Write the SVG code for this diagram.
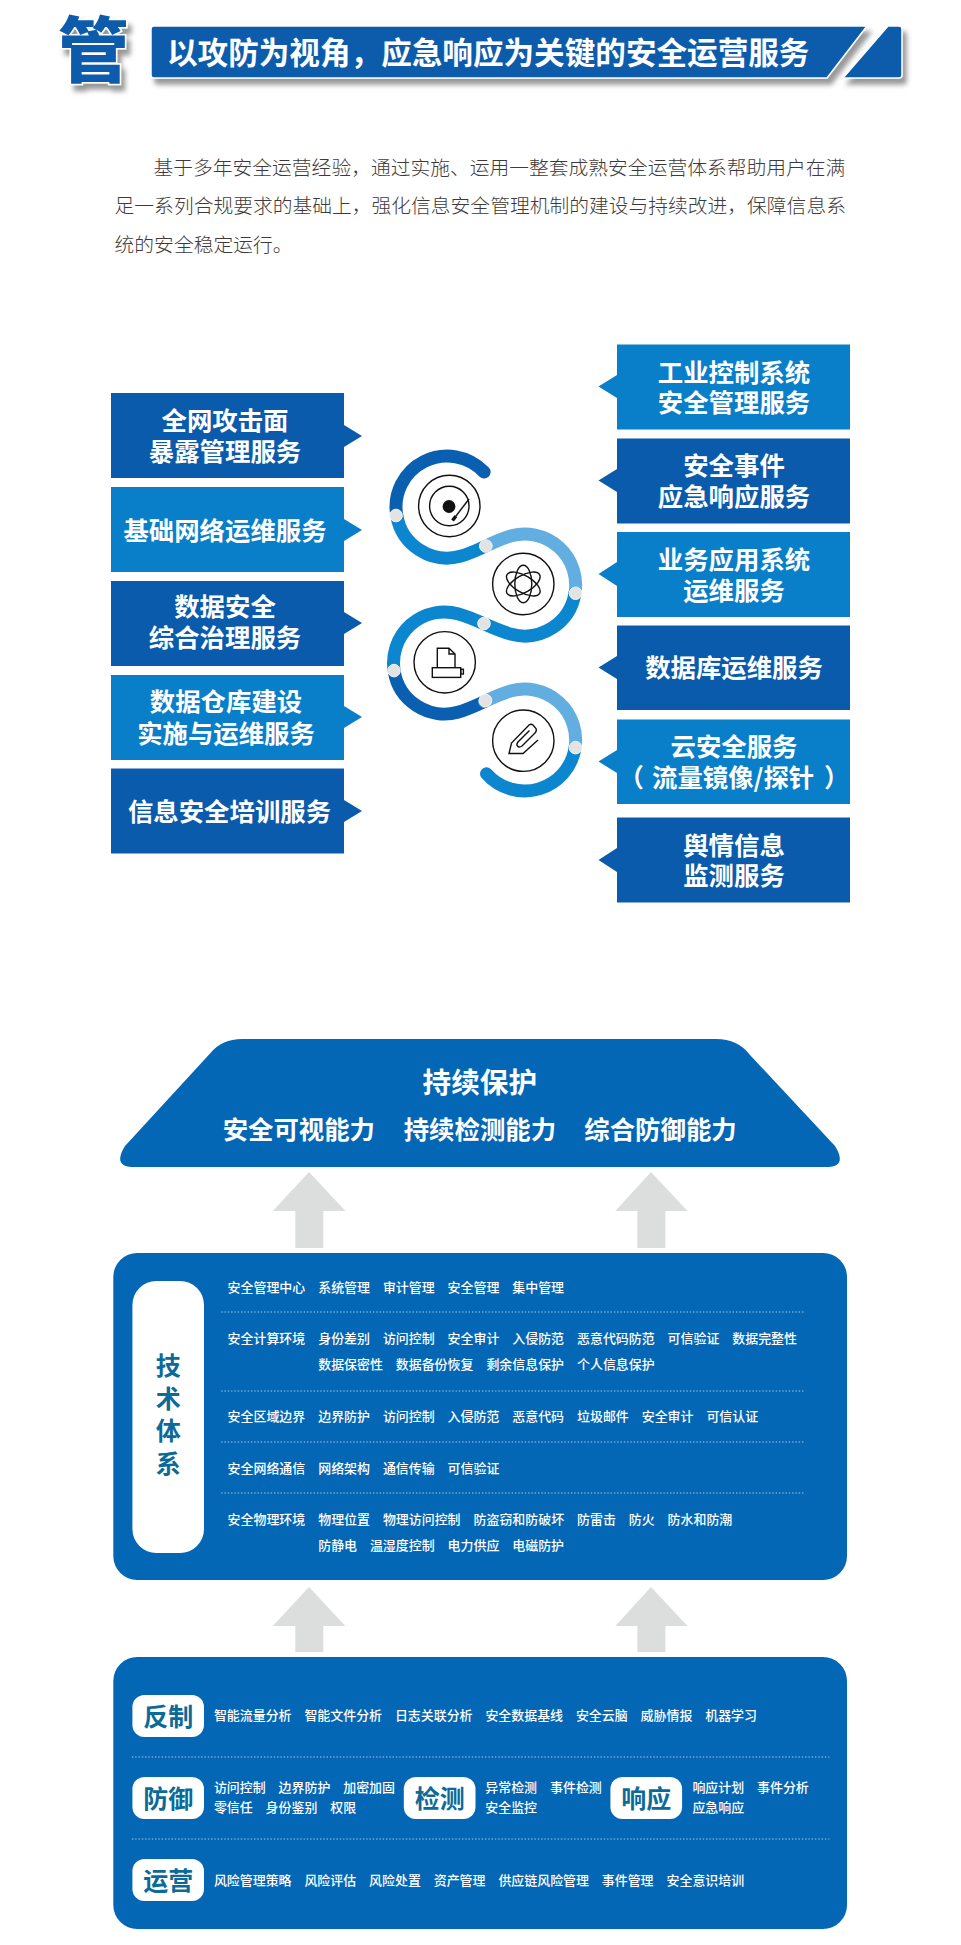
<svg xmlns="http://www.w3.org/2000/svg" width="961" height="1945" viewBox="0 0 961 1945">
<defs>
<filter id="sh" x="-10%" y="-30%" width="120%" height="170%"><feDropShadow dx="4" dy="6" stdDeviation="2.6" flood-color="#777" flood-opacity="0.75"/></filter>
</defs>
<style>
text{font-family:"Noto Sans CJK SC","Noto Sans",sans-serif;}
.box{font-size:25.4px;font-weight:600;fill:#fff;text-anchor:middle;}
.dark{fill:#0a5bab;}
.light{fill:#0a7fc9;}
.panel{fill:#0467b5;}
.pill{fill:#fff;}
.it{font-size:12.94px;font-weight:500;fill:#fff;transform:translateY(-1px);}
.lab{font-size:25px;font-weight:700;fill:#0c6a98;text-anchor:middle;}
.dot{stroke:#a9c9e6;stroke-width:1.2;stroke-dasharray:1.4 1.9;fill:none;}
.body{font-size:19.77px;font-weight:300;fill:#3e3a39;}
.arc{fill:none;stroke-width:13;stroke-linecap:round;}
.jn{fill:#e3e3e3;stroke:#f4f4f4;stroke-width:1;}
.ic{fill:none;stroke:#111;stroke-width:1.4;}
.up{fill:#dcdddd;}
.tr1{font-size:25.4px;font-weight:700;fill:#fff;text-anchor:middle;}
</style>
<rect width="961" height="1945" fill="#fff"/>

<g id="header">
<g filter="url(#sh)">
<path id="banner-main" d="M154,26H867L827,78H154Q151,78 151,75V29Q151,26 154,26Z" fill="#0a5bab" stroke="#fff" stroke-width="1.5"/>
<path id="banner-tail" d="M888,26H899Q902,26 902,29V75Q902,78 899,78H843Z" fill="#0a5bab" stroke="#fff" stroke-width="1.5"/>
</g>
<text x="167" y="63.5" font-size="30.6" font-weight="700" fill="#fff">以攻防为视角&#xFF0C;应急响应为关键的安全运营服务</text>
<g filter="url(#sh)"><text x="93.5" y="75.5" font-size="71" font-weight="900" fill="#0a5bab" stroke="#fff" stroke-width="3" paint-order="stroke" text-anchor="middle">管</text></g>
</g>

<g id="intro">
<text class="body" x="153.5" y="174.5">基于多年安全运营经验&#xFF0C;通过实施&#x3001;运用一整套成熟安全运营体系帮助用户在满</text>
<text class="body" x="114.6" y="212.5">足一系列合规要求的基础上&#xFF0C;强化信息安全管理机制的建设与持续改进&#xFF0C;保障信息系</text>
<text class="body" x="114.6" y="251.5">统的安全稳定运行&#x3002;</text>
</g>

<g id="left-1"><path class="dark" d="M111,393H344V425L362,436L344,447V478H111Z"/><text class="box" x="225" y="430.3">全网攻击面</text><text class="box" x="225" y="461.3">暴露管理服务</text></g>
<g id="left-2"><path class="light" d="M111,487H344V519L362,530L344,541V572H111Z"/><text class="box" x="225" y="539.6">基础网络运维服务</text></g>
<g id="left-3"><path class="dark" d="M111,581H344V612L362,623L344,634V666H111Z"/><text class="box" x="225" y="616.3">数据安全</text><text class="box" x="225" y="647.3">综合治理服务</text></g>
<g id="left-4"><path class="light" d="M111,675H344V706L362,717L344,728V760H111Z"/><text class="box" x="226" y="711.3">数据仓库建设</text><text class="box" x="226" y="742.6">实施与运维服务</text></g>
<g id="left-5"><path class="dark" d="M111,768.5H344V800L362,811L344,822V853.5H111Z"/><text class="box" x="229.5" y="820.6">信息安全培训服务</text></g>

<g id="right-1"><path class="light" d="M850,344.5H617V375L598.5,386.5L617,398V429.5H850Z"/><text class="box" x="734" y="382">工业控制系统</text><text class="box" x="734" y="412.3">安全管理服务</text></g>
<g id="right-2"><path class="dark" d="M850,438.5H617V469L598.5,480.5L617,492V523.5H850Z"/><text class="box" x="734" y="475.3">安全事件</text><text class="box" x="734" y="506.3">应急响应服务</text></g>
<g id="right-3"><path class="light" d="M850,532H617V562L598.5,574L617,586V617H850Z"/><text class="box" x="734" y="568.6">业务应用系统</text><text class="box" x="734" y="600.3">运维服务</text></g>
<g id="right-4"><path class="dark" d="M850,625.5H617V656L598.5,667.5L617,679V710H850Z"/><text class="box" x="734" y="677.3">数据库运维服务</text></g>
<g id="right-5"><path class="light" d="M850,719.5H617V750L598.5,761.5L617,773V804H850Z"/><text class="box" x="734" y="756.3">云安全服务</text><text class="box" x="618.5" y="787.3" style="text-anchor:start">&#xFF08;<tspan x="652">流量镜像/探针</tspan><tspan x="824">&#xFF09;</tspan></text></g>
<g id="right-6"><path class="dark" d="M850,817.5H617V848L598.5,860L617,872V902.5H850Z"/><text class="box" x="734" y="854.6">舆情信息</text><text class="box" x="734" y="885.3">监测服务</text></g>

<g id="swirl">
<path class="arc" stroke="#0a5fb0" d="M484.1,472A51,51 0 0 0 396.8,515.9"/>
<path class="arc" stroke="#0c86cf" d="M396.8,515.9A51,51 0 0 0 460.2,556.3C469.85,553.7 477.85,549.85 485.85,546"/>
<path class="arc" stroke="#63aee0" d="M485.85,546C493.85,542.15 501.85,538.3 511.5,535.7A51,51 0 0 1 575,593.1"/>
<path class="arc" stroke="#0c86cf" d="M575,593.1A51,51 0 0 1 511.5,634.3C492.2,629.1 477,618.9 457.7,613.7A51,51 0 0 0 394.1,670.6"/>
<path class="arc" stroke="#0a5fb0" d="M394.1,670.6A51,51 0 0 0 457.7,712.26C467.35,709.7 475.98,705.6 484.6,701.5"/>
<path class="arc" stroke="#63aee0" d="M484.6,701.5C493.2,697.4 501.85,693.3 511.5,690.74A51,51 0 0 1 575.1,747.6"/>
<path class="arc" stroke="#0c86cf" d="M575.1,747.6A51,51 0 0 1 486.5,773.8"/>
<circle class="jn" cx="396" cy="515.5" r="6.3"/>
<circle class="jn" cx="485.85" cy="546" r="6.3"/>
<circle class="jn" cx="575.5" cy="593.2" r="6.3"/>
<circle class="jn" cx="484" cy="623.5" r="6.3"/>
<circle class="jn" cx="394" cy="670.6" r="6.3"/>
<circle class="jn" cx="485.5" cy="700.5" r="6.3"/>
<circle class="jn" cx="575.5" cy="747.6" r="6.3"/>
</g>

<g id="icon-disc">
<circle class="ic" cx="449.3" cy="506" r="30.7"/>
<circle class="ic" cx="449.3" cy="506" r="19.7"/>
<circle cx="449" cy="506.5" r="6.4" fill="#111"/>
<path class="ic" d="M469,499L456,516"/>
<path d="M456,516L452.5,520.5" fill="none" stroke="#111" stroke-width="3.4"/>
</g>
<g id="icon-atom">
<circle class="ic" cx="523.3" cy="584" r="30.7"/>
<ellipse class="ic" cx="523.3" cy="584" rx="8.5" ry="18.8"/>
<ellipse class="ic" cx="523.3" cy="584" rx="8.5" ry="18.8" transform="rotate(60 523.3 584)"/>
<ellipse class="ic" cx="523.3" cy="584" rx="8.5" ry="18.8" transform="rotate(-60 523.3 584)"/>
</g>
<g id="icon-printer">
<circle class="ic" cx="444.7" cy="662.3" r="30.7"/>
<path class="ic" d="M437.3,667.7V648.3H449L455,654V667.7M449,648.3V654H455"/>
<rect class="ic" x="432.3" y="667.7" width="28.4" height="9.7"/>
<rect class="ic" x="460.7" y="669.3" width="2.7" height="4.7"/>
</g>
<g id="icon-clip">
<circle class="ic" cx="523.3" cy="740.7" r="30.7"/>
<path class="ic" stroke-width="1.7" d="M538,740L523,753.5L509,753.5L511.5,743L529,725Q531,723.5 533,725L536,728.5Q537,731 535,733L522,746Q519,748 517.5,746Q516,744.5 518,742L529.5,730.5"/>
</g>

<g id="protection">
<path d="M242,1039H716Q738,1039 750,1055L835,1146Q848,1167 826,1167H134Q112,1167 125,1146L210.5,1053Q222,1039 242,1039Z" class="panel"/>
<text x="479.8" y="1092.7" font-size="28.6" font-weight="700" fill="#fff" text-anchor="middle">持续保护</text>
<text class="tr1" x="298.8" y="1138.8">安全可视能力</text>
<text class="tr1" x="479.9" y="1138.8">持续检测能力</text>
<text class="tr1" x="660.5" y="1138.8">综合防御能力</text>
</g>

<g id="connectors">
<path class="up" d="M309,1172L345.4,1211H323.3V1248H295.3V1211H272.8Z"/>
<path class="up" d="M651,1172L687.5,1211H665.4V1248H637.4V1211H615.3Z"/>
<path class="up" d="M309,1587L345.4,1626H323.3V1652H295.3V1626H272.8Z"/>
<path class="up" d="M651,1587L687.5,1626H665.4V1652H637.4V1626H615.3Z"/>
</g>

<g id="tech-system">
<rect class="panel" x="113.3" y="1253" width="733.7" height="327" rx="24"/>
<rect class="pill" x="132.4" y="1281" width="71.6" height="272" rx="24"/>
<text class="lab" x="168.2" y="1374.6">技</text>
<text class="lab" x="168.2" y="1407.6">术</text>
<text class="lab" x="168.2" y="1439.6">体</text>
<text class="lab" x="168.2" y="1472.6">系</text>
<path class="dot" d="M221.2,1312H804.3M221.2,1391H804.3M221.2,1442H804.3M221.2,1493H804.3"/>
<text class="it" x="227.6" y="1293">安全管理中心</text><text class="it" x="318.2" y="1293">系统管理</text><text class="it" x="382.9" y="1293">审计管理</text><text class="it" x="447.6" y="1293">安全管理</text><text class="it" x="512.3" y="1293">集中管理</text>
<text class="it" x="227.6" y="1344">安全计算环境</text><text class="it" x="318.2" y="1344">身份差别</text><text class="it" x="382.9" y="1344">访问控制</text><text class="it" x="447.6" y="1344">安全审计</text><text class="it" x="512.3" y="1344">入侵防范</text><text class="it" x="577" y="1344">恶意代码防范</text><text class="it" x="667.6" y="1344">可信验证</text><text class="it" x="732.3" y="1344">数据完整性</text>
<text class="it" x="318.2" y="1370">数据保密性</text><text class="it" x="395.8" y="1370">数据备份恢复</text><text class="it" x="486.4" y="1370">剩余信息保护</text><text class="it" x="577" y="1370">个人信息保护</text>
<text class="it" x="227.6" y="1422">安全区域边界</text><text class="it" x="318.2" y="1422">边界防护</text><text class="it" x="382.9" y="1422">访问控制</text><text class="it" x="447.6" y="1422">入侵防范</text><text class="it" x="512.3" y="1422">恶意代码</text><text class="it" x="577" y="1422">垃圾邮件</text><text class="it" x="641.7" y="1422">安全审计</text><text class="it" x="706.4" y="1422">可信认证</text>
<text class="it" x="227.6" y="1474">安全网络通信</text><text class="it" x="318.2" y="1474">网络架构</text><text class="it" x="382.9" y="1474">通信传输</text><text class="it" x="447.6" y="1474">可信验证</text>
<text class="it" x="227.6" y="1525">安全物理环境</text><text class="it" x="318.2" y="1525">物理位置</text><text class="it" x="382.9" y="1525">物理访问控制</text><text class="it" x="473.5" y="1525">防盗窃和防破坏</text><text class="it" x="577" y="1525">防雷击</text><text class="it" x="628.7" y="1525">防火</text><text class="it" x="667.6" y="1525">防水和防潮</text>
<text class="it" x="318.2" y="1551">防静电</text><text class="it" x="369.9" y="1551">温湿度控制</text><text class="it" x="447.6" y="1551">电力供应</text><text class="it" x="512.3" y="1551">电磁防护</text>
</g>

<g id="operations">
<rect class="panel" x="113.3" y="1657" width="733.7" height="272" rx="24"/>
<path class="dot" d="M131.9,1757H829.3M131.9,1839H829.3"/>
<g id="pill-fanzhi"><rect class="pill" x="132.4" y="1695" width="71.6" height="42" rx="12"/><text class="lab" x="168.2" y="1725.5">反制</text></g>
<g id="pill-fangyu"><rect class="pill" x="132.4" y="1777" width="71.6" height="42" rx="12"/><text class="lab" x="168.2" y="1807.5">防御</text></g>
<g id="pill-jiance"><rect class="pill" x="403.8" y="1777" width="71.7" height="42" rx="12"/><text class="lab" x="439.7" y="1807.5">检测</text></g>
<g id="pill-xiangying"><rect class="pill" x="610.4" y="1777" width="71.7" height="42" rx="12"/><text class="lab" x="646.3" y="1807.5">响应</text></g>
<g id="pill-yunying"><rect class="pill" x="132.4" y="1859" width="71.6" height="42" rx="12"/><text class="lab" x="168.2" y="1889.5">运营</text></g>
<text class="it" x="213.9" y="1721">智能流量分析</text><text class="it" x="304.4" y="1721">智能文件分析</text><text class="it" x="394.9" y="1721">日志关联分析</text><text class="it" x="485.4" y="1721">安全数据基线</text><text class="it" x="575.9" y="1721">安全云脑</text><text class="it" x="640.6" y="1721">威胁情报</text><text class="it" x="705.2" y="1721">机器学习</text>
<text class="it" x="213.9" y="1793">访问控制</text><text class="it" x="278.6" y="1793">边界防护</text><text class="it" x="343.2" y="1793">加密加固</text>
<text class="it" x="213.9" y="1813">零信任</text><text class="it" x="265.6" y="1813">身份鉴别</text><text class="it" x="330.3" y="1813">权限</text>
<text class="it" x="485.3" y="1793">异常检测</text><text class="it" x="550" y="1793">事件检测</text><text class="it" x="485.3" y="1813">安全监控</text>
<text class="it" x="692.4" y="1793">响应计划</text><text class="it" x="757" y="1793">事件分析</text><text class="it" x="692.4" y="1813">应急响应</text>
<text class="it" x="213.9" y="1886">风险管理策略</text><text class="it" x="304.4" y="1886">风险评估</text><text class="it" x="369.1" y="1886">风险处置</text><text class="it" x="433.7" y="1886">资产管理</text><text class="it" x="498.4" y="1886">供应链风险管理</text><text class="it" x="601.8" y="1886">事件管理</text><text class="it" x="666.5" y="1886">安全意识培训</text>
</g>
</svg>
